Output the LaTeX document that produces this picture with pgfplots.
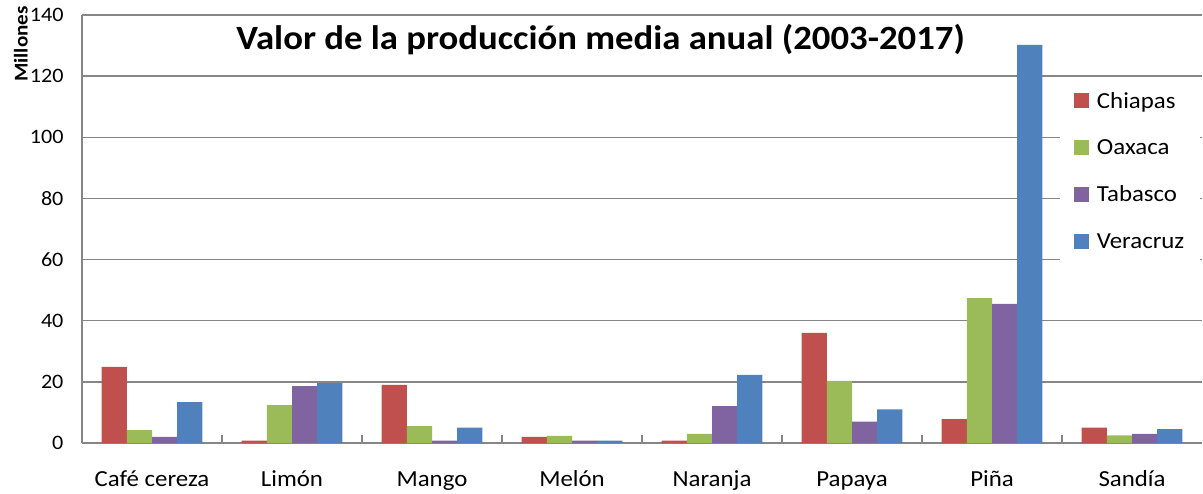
\documentclass[border=0pt]{standalone}
\usepackage{fontspec}
\setmainfont[FakeStretch=1.08]{Carlito}
\usepackage{pgfplots}
\pgfplotsset{compat=1.18}
\definecolor{cChi}{RGB}{192,80,77}
\definecolor{cOax}{RGB}{155,187,89}
\definecolor{cTab}{RGB}{128,100,162}
\definecolor{cVer}{RGB}{79,129,189}
\definecolor{gridgray}{RGB}{134,134,134}
\begin{document}
\begin{tikzpicture}
\begin{axis}[
  scale only axis, width=1120pt, height=428pt,
  clip=false,
  xmin=-0.5, xmax=7.5, ymin=0, ymax=140,
  xtick={-0.5,0.5,...,7.5},
  x tick label as interval,
  xticklabels={Café cereza, Limón, Mango, Melón, Naranja, Papaya, Piña, Sandía},
  ytick={0,20,...,140},
  axis x line*=bottom, axis y line*=left,
  axis line style={-, draw=gridgray, line width=1.3pt},
  ymajorgrids, grid style={draw=gridgray, line width=1.3pt},
  major tick length=0pt,
  xtick style={draw=none}, ytick style={draw=none},
  /pgf/number format/assume math mode=true,
  yticklabel style={font=\fontsize{20.5}{24}\selectfont, xshift=-15pt},
  xticklabel style={font=\fontsize{23}{28}\selectfont, text height=17pt, text depth=5pt, yshift=-23pt},
  legend style={at={(rel axis cs:0.873,0.853)}, anchor=north west, draw=none, fill=white,
    font=\fontsize{23}{27}\selectfont, row sep=26pt, column sep=6pt, inner xsep=14pt, inner ysep=12pt},
  legend cell align=left,
  legend image code/.code={\draw[#1,draw=none] (0pt,-7pt) rectangle (15pt,8pt);},
  every axis plot/.append style={bar width=0.18},
]
\addplot[ybar, bar shift=-0.27, fill=cChi, draw=none] coordinates {(0,24.9) (1,0.8) (2,19) (3,2) (4,0.8) (5,36) (6,7.8) (7,5)};
\addplot[ybar, bar shift=-0.09, fill=cOax, draw=none] coordinates {(0,4.2) (1,12.4) (2,5.5) (3,2.3) (4,3) (5,20.3) (6,47.4) (7,2.5)};
\addplot[ybar, bar shift=0.09, fill=cTab, draw=none] coordinates {(0,2) (1,18.6) (2,0.8) (3,0.8) (4,12.1) (5,7) (6,45.5) (7,3)};
\addplot[ybar, bar shift=0.27, fill=cVer, draw=none] coordinates {(0,13.4) (1,19.6) (2,5) (3,0.8) (4,22.3) (5,11) (6,130.2) (7,4.5)};
\legend{Chiapas, Oaxaca, Tabasco, Veracruz}
% category separator tick marks on the x axis
\addplot[ycomb, no marks, draw=gridgray, line width=1.3pt, forget plot] coordinates {(0.5,2.7) (1.5,2.7) (2.5,2.7) (3.5,2.7) (4.5,2.7) (5.5,2.7) (6.5,2.7)};
\node[font=\bfseries\fontsize{34}{40}\selectfont] at (rel axis cs:0.463,0.942) {Valor de la producción media anual (2003-2017)};
\node[rotate=90, font=\bfseries\fontsize{19.5}{22}\selectfont] at (rel axis cs:-0.0545,0.932) {Millones};
\coordinate (bl) at (rel axis cs:0,0);
\coordinate (tr) at (rel axis cs:1,1);
\end{axis}
\pgfresetboundingbox
\path[use as bounding box] ([xshift=-82pt,yshift=-50pt]bl) rectangle ([xshift=1pt,yshift=15pt]tr);
\end{tikzpicture}
\end{document}
